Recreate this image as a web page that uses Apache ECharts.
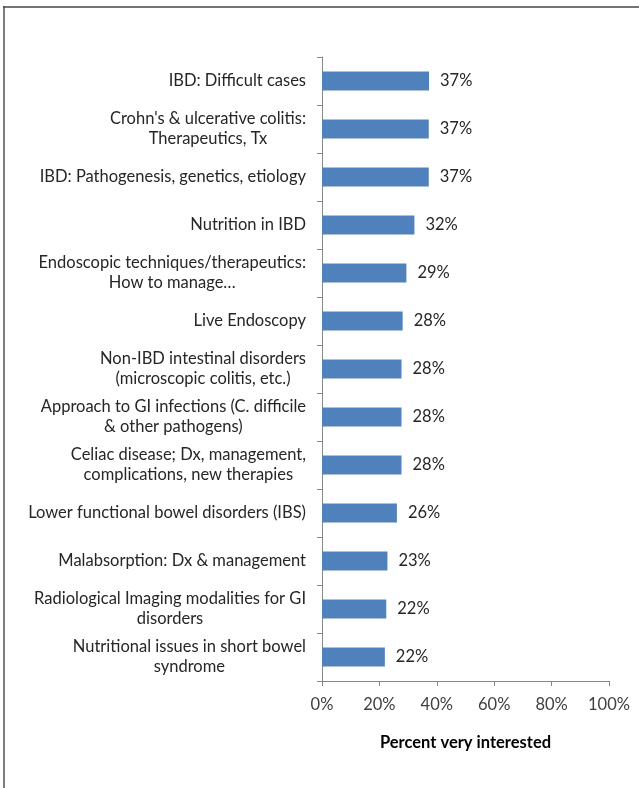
<!DOCTYPE html>
<html>
<head>
<meta charset="utf-8">
<script src="https://cdn.jsdelivr.net/npm/echarts@6/dist/echarts.min.js"></script>
<style>
html,body{margin:0;padding:0;background:#fff;}
#c{width:639px;height:788px;}
</style>
</head>
<body>
<div id="c"></div>
<script>
var categories = [
  "IBD: Difficult cases",
  "Crohn's & ulcerative colitis:\nTherapeutics, Tx",
  "IBD: Pathogenesis, genetics, etiology",
  "Nutrition in IBD",
  "Endoscopic techniques/therapeutics:\nHow to manage\u2026",
  "Live Endoscopy",
  "Non-IBD intestinal disorders\n(microscopic colitis, etc.)",
  "Approach to GI infections (C. difficile\n& other pathogens)",
  "Celiac disease; Dx, management,\ncomplications, new therapies",
  "Lower functional bowel disorders (IBS)",
  "Malabsorption: Dx & management",
  "Radiological Imaging modalities for GI\ndisorders",
  "Nutritional issues in short bowel\nsyndrome"
];
var values = [37.3, 37.2, 37.2, 32.2, 29.4, 28.1, 27.7, 27.7, 27.7, 26.1, 22.8, 22.4, 21.9];
var xTicks = [0, 20, 40, 60, 80, 100];
var axisTitle = "Percent very interested";

var FONT = "Lato";
var FS = 16.5;
var chart = echarts.init(document.getElementById('c'), null, {renderer: 'canvas'});
chart.setOption({
  animation: false,
  backgroundColor: '#ffffff',
  graphic: [
    {type: 'line', shape: {x1: 3, y1: 7, x2: 639, y2: 7}, style: {stroke: '#747474', lineWidth: 2}},
    {type: 'line', shape: {x1: 4, y1: 6, x2: 4, y2: 788}, style: {stroke: '#505050', lineWidth: 1.5}}
  ],
  grid: {left: 322, right: 30, top: 57, bottom: 107, containLabel: false},
  xAxis: {
    type: 'value',
    min: xTicks[0],
    max: xTicks[xTicks.length - 1],
    interval: 20,
    name: axisTitle,
    nameLocation: 'middle',
    nameGap: 53,
    nameTextStyle: {fontFamily: FONT, fontWeight: 'bold', fontSize: FS, color: '#000000'},
    axisLine: {show: true, lineStyle: {color: '#868686', width: 1}},
    axisTick: {show: true, length: 5, lineStyle: {color: '#868686'}},
    splitLine: {show: false},
    axisLabel: {
      margin: 15,
      fontFamily: FONT, fontSize: FS, color: '#404040',
      formatter: function (v) { return v + '%'; }
    }
  },
  yAxis: {
    type: 'category',
    data: categories,
    inverse: true,
    axisLine: {show: true, lineStyle: {color: '#868686', width: 1}},
    axisTick: {show: true, length: 5, lineStyle: {color: '#868686'}},
    axisLabel: {
      margin: 16,
      align: 'right',
      formatter: function (v) {
        return v.split('\n').map(function (l) { return '{c|' + l + '}'; }).join('\n');
      },
      rich: {
        c: {align: 'center', fontFamily: FONT, fontSize: FS, color: '#262626', lineHeight: 20}
      }
    }
  },
  series: [{
    type: 'bar',
    data: values,
    barWidth: 19,
    itemStyle: {color: '#4F81BD'},
    label: {
      show: true,
      position: 'right',
      distance: 11,
      fontFamily: FONT, fontSize: FS, color: '#262626',
      formatter: function (p) { return Math.round(p.value) + '%'; }
    }
  }]
});
</script>
</body>
</html>
